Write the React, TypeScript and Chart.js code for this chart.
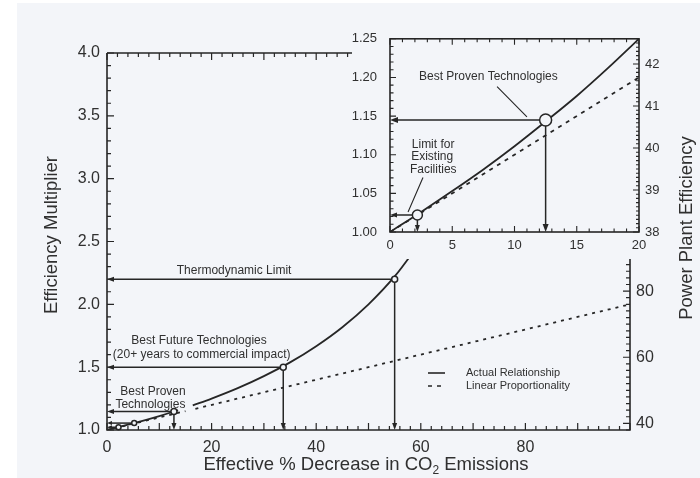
import React, { useEffect, useRef } from 'react';
import { Chart, registerables } from 'chart.js';

Chart.register(...registerables);

const FONT = '"Liberation Sans", Arial, Helvetica, sans-serif';
const INK = '#262626';
const TEXT = '#303030';
const PAPER = '#f3f5f9';

// ---------- Main chart data ----------
const mainActualX = [0, 2.5, 5, 7.5, 10, 12.5, 13.6, 15, 16.4, 20, 25, 30, 35, 40, 45, 50, 55, 60];
const mainActualY = [1.0, 1.026, 1.053, 1.081, 1.111, 1.143, 1.157, null, 1.196, 1.25, 1.333, 1.429, 1.538, 1.667, 1.818, 2.0, 2.222, 2.5];
const mainLinearX = [0, 15, 16, 16.9, 100];
const mainLinearY = [1.0, 1.15, null, 1.169, 2.0];

const mainXTicks = [0, 20, 40, 60, 80];
const mainYTicks = [1.0, 1.5, 2.0, 2.5, 3.0, 3.5, 4.0];
const mainRightTicks = [40, 60, 80];

const mainMarkerX = [55, 33.7, 12.8];
const mainMarkerY = [2.2, 1.5, 1.147];
const mainSmallMarkerX = [5.2, 2.2];
const mainSmallMarkerY = [1.055, 1.022];

// ---------- Inset chart data ----------
const insetX = [0, 2.5, 5, 7.5, 10, 12.5, 15, 17.5, 20];
const insetActualY = [1.0, 1.026, 1.053, 1.081, 1.111, 1.143, 1.176, 1.212, 1.25];
const insetLinearX = [0, 20];
const insetLinearY = [1.0, 1.2];

const insetXTicks = [0, 5, 10, 15, 20];
const insetYTicks = [1.0, 1.05, 1.1, 1.15, 1.2, 1.25];
const insetRightTicks = [38, 39, 40, 41, 42];

const insetMarkerX = [12.5, 2.2];
const insetMarkerY = [1.145, 1.022];

const seriesLabels = ['Actual Relationship', 'Linear Proportionality'];

const toPoints = (xs: number[], ys: (number | null)[]) => xs.map((x, i) => ({ x, y: ys[i] }));

function arrowLeft(ctx: CanvasRenderingContext2D, x: number, y: number, len: number, w: number) {
  ctx.beginPath();
  ctx.moveTo(x, y);
  ctx.lineTo(x + len, y - w / 2);
  ctx.lineTo(x + len, y + w / 2);
  ctx.closePath();
  ctx.fill();
}
function arrowDown(ctx: CanvasRenderingContext2D, x: number, y: number, len: number, w: number) {
  ctx.beginPath();
  ctx.moveTo(x, y);
  ctx.lineTo(x - w / 2, y - len);
  ctx.lineTo(x + w / 2, y - len);
  ctx.closePath();
  ctx.fill();
}
function marker(
  ctx: CanvasRenderingContext2D, px: number, py: number, r: number,
  left: number, bottom: number | null, hl: number, hw: number
) {
  ctx.beginPath();
  ctx.moveTo(px - r, py);
  ctx.lineTo(left + hl - 1, py);
  ctx.stroke();
  arrowLeft(ctx, left, py, hl, hw);
  if (bottom !== null) {
    ctx.beginPath();
    ctx.moveTo(px, py + r);
    ctx.lineTo(px, bottom - hl + 1);
    ctx.stroke();
    arrowDown(ctx, px, bottom, hl, hw);
  }
  ctx.beginPath();
  ctx.arc(px, py, r, 0, Math.PI * 2);
  ctx.fillStyle = PAPER;
  ctx.fill();
  ctx.stroke();
  ctx.fillStyle = INK;
}

const mainDecor = {
  id: 'mainDecor',
  afterDraw(chart: any) {
    const { ctx, chartArea: a, scales } = chart;
    const xs = scales.x, ys = scales.y, ry = scales.y2;
    ctx.save();
    ctx.strokeStyle = INK;
    ctx.fillStyle = INK;
    ctx.lineWidth = 1.6;
    ctx.beginPath();
    ctx.moveTo(a.left, a.top);
    ctx.lineTo(a.right, a.top);
    ctx.moveTo(a.left, a.top);
    ctx.lineTo(a.left, a.bottom);
    ctx.lineTo(a.right, a.bottom);
    ctx.lineTo(a.right, a.top);
    ctx.stroke();

    ctx.lineWidth = 1.2;
    ctx.beginPath();
    for (let i = 0; i <= 50; i++) {
      const v = i * 2;
      const px = xs.getPixelForValue(v);
      const len = v % 10 === 0 ? 7 : 4;
      ctx.moveTo(px, a.bottom);
      ctx.lineTo(px, a.bottom - len);
      ctx.moveTo(px, a.top);
      ctx.lineTo(px, a.top + len);
    }
    for (let i = 0; i <= 30; i++) {
      const py = ys.getPixelForValue(1 + i * 0.1);
      const len = i % 5 === 0 ? 7 : 4;
      ctx.moveTo(a.left, py);
      ctx.lineTo(a.left + len, py);
    }
    for (let v = 38; v <= 152; v += 2) {
      const py = ry.getPixelForValue(v);
      const len = v % 20 === 0 ? 7 : 4;
      ctx.moveTo(a.right, py);
      ctx.lineTo(a.right - len, py);
    }
    ctx.stroke();

    // markers with arrows
    ctx.lineWidth = 1.5;
    mainMarkerX.forEach((mx, i) => {
      marker(ctx, xs.getPixelForValue(mx), ys.getPixelForValue(mainMarkerY[i]), 3, a.left, a.bottom, 7, 5);
    });
    mainSmallMarkerX.forEach((mx, i) => {
      marker(ctx, xs.getPixelForValue(mx), ys.getPixelForValue(mainSmallMarkerY[i]), 2.5, a.left, null, 5, 4);
    });

    // annotation labels
    ctx.fillStyle = TEXT;
    ctx.textAlign = 'center';
    ctx.textBaseline = 'middle';
    ctx.font = `12px ${FONT}`;
    const yT = ys.getPixelForValue(mainMarkerY[0]);
    ctx.fillText('Thermodynamic Limit', xs.getPixelForValue(24.3), yT - 9);
    const yF = ys.getPixelForValue(mainMarkerY[1]);
    ctx.fillText('Best Future Technologies', xs.getPixelForValue(17.6), yF - 26);
    ctx.fillText('(20+ years to commercial impact)', xs.getPixelForValue(18.1), yF - 12);
    const yP = ys.getPixelForValue(mainMarkerY[2]);
    ctx.fillText('Best Proven', xs.getPixelForValue(8.8), yP - 20);
    ctx.fillText('Technologies', xs.getPixelForValue(8.3), yP - 7);

    // legend
    ctx.font = `11px ${FONT}`;
    ctx.textAlign = 'left';
    ctx.strokeStyle = INK;
    ctx.lineWidth = 1.6;
    ctx.beginPath();
    ctx.moveTo(428, 373);
    ctx.lineTo(445, 373);
    ctx.stroke();
    ctx.setLineDash([4, 5]);
    ctx.beginPath();
    ctx.moveTo(428, 386);
    ctx.lineTo(446, 386);
    ctx.stroke();
    ctx.setLineDash([]);
    const ds = chart.data.datasets;
    ctx.fillText(ds[0].label, 466, 373);
    ctx.fillText(ds[1].label, 466, 386);

    // axis titles
    ctx.textAlign = 'center';
    ctx.font = `18.5px ${FONT}`;
    ctx.save();
    ctx.translate(52, 235);
    ctx.rotate(-Math.PI / 2);
    ctx.fillText('Efficiency Multiplier', 0, 0);
    ctx.restore();
    ctx.save();
    ctx.translate(687, 228);
    ctx.rotate(-Math.PI / 2);
    ctx.fillText('Power Plant Efficiency', 0, 0);
    ctx.restore();

    const p1 = 'Effective % Decrease in CO';
    const p2 = '2';
    const p3 = ' Emissions';
    ctx.font = `18.5px ${FONT}`;
    const w1 = ctx.measureText(p1).width;
    const w3 = ctx.measureText(p3).width;
    ctx.font = `12px ${FONT}`;
    const w2 = ctx.measureText(p2).width;
    let sx = 366 - (w1 + w2 + w3) / 2;
    ctx.textAlign = 'left';
    ctx.font = `18.5px ${FONT}`;
    ctx.fillText(p1, sx, 465);
    sx += w1;
    ctx.font = `12px ${FONT}`;
    ctx.fillText(p2, sx, 471);
    sx += w2;
    ctx.font = `18.5px ${FONT}`;
    ctx.fillText(p3, sx, 465);

    // paper under the inset
    ctx.fillStyle = PAPER;
    ctx.fillRect(352, 18, 320, 241);
    ctx.restore();
  },
};

const insetDecor = {
  id: 'insetDecor',
  afterDraw(chart: any) {
    const { ctx, chartArea: a, scales } = chart;
    const xs = scales.x, ys = scales.y, ry = scales.y2;
    ctx.save();
    ctx.strokeStyle = INK;
    ctx.fillStyle = INK;
    ctx.lineWidth = 1.6;
    ctx.strokeRect(a.left, a.top, a.right - a.left, a.bottom - a.top);

    ctx.lineWidth = 1.1;
    ctx.beginPath();
    for (let v = 0; v <= 20; v++) {
      const px = xs.getPixelForValue(v);
      const len = v % 5 === 0 ? 6 : 3.5;
      ctx.moveTo(px, a.bottom);
      ctx.lineTo(px, a.bottom - len);
      ctx.moveTo(px, a.top);
      ctx.lineTo(px, a.top + len);
    }
    for (let i = 0; i <= 25; i++) {
      const py = ys.getPixelForValue(1 + i * 0.01);
      const len = i % 5 === 0 ? 6 : 3.5;
      ctx.moveTo(a.left, py);
      ctx.lineTo(a.left + len, py);
    }
    for (let i = 0; i <= 46; i++) {
      const v = 38 + i * 0.1;
      const py = ry.getPixelForValue(v);
      const len = i % 10 === 0 ? 6 : 3;
      ctx.moveTo(a.right, py);
      ctx.lineTo(a.right - len, py);
    }
    ctx.stroke();

    ctx.lineWidth = 1.5;
    marker(ctx, xs.getPixelForValue(insetMarkerX[0]), ys.getPixelForValue(insetMarkerY[0]), 6, a.left, a.bottom, 8, 6);
    marker(ctx, xs.getPixelForValue(insetMarkerX[1]), ys.getPixelForValue(insetMarkerY[1]), 5, a.left, a.bottom, 7, 5);

    // leader lines
    ctx.lineWidth = 1.1;
    ctx.beginPath();
    ctx.moveTo(xs.getPixelForValue(8.6), ys.getPixelForValue(1.188));
    ctx.lineTo(xs.getPixelForValue(11.0), ys.getPixelForValue(1.149));
    ctx.moveTo(xs.getPixelForValue(2.65), ys.getPixelForValue(1.0705));
    ctx.lineTo(xs.getPixelForValue(1.45), ys.getPixelForValue(1.026));
    ctx.stroke();

    ctx.fillStyle = TEXT;
    ctx.textBaseline = 'middle';
    ctx.font = `12px ${FONT}`;
    ctx.textAlign = 'center';
    ctx.fillText('Best Proven Technologies', xs.getPixelForValue(7.9), ys.getPixelForValue(1.201));
    ctx.textAlign = 'left';
    ctx.fillText('Limit for', xs.getPixelForValue(1.75), ys.getPixelForValue(1.113));
    ctx.fillText('Existing', xs.getPixelForValue(1.7), ys.getPixelForValue(1.097));
    ctx.fillText('Facilities', xs.getPixelForValue(1.6), ys.getPixelForValue(1.081));
    ctx.restore();
  },
};

export default function App() {
  const mainRef = useRef<HTMLCanvasElement | null>(null);
  const insetRef = useRef<HTMLCanvasElement | null>(null);

  useEffect(() => {
    document.body.style.margin = '0';
    const tickFont = { family: FONT, size: 16 };
    const noGrid = { display: false, drawTicks: false, tickLength: 0 };
    const main = new Chart(mainRef.current as HTMLCanvasElement, {
      type: 'line',
      data: {
        datasets: [
          {
            label: seriesLabels[0],
            data: toPoints(mainActualX, mainActualY) as any,
            borderColor: INK,
            borderWidth: 1.8,
            pointRadius: 0,
            cubicInterpolationMode: 'monotone',
            spanGaps: false,
            yAxisID: 'y',
          },
          {
            label: seriesLabels[1],
            data: toPoints(mainLinearX, mainLinearY) as any,
            borderColor: INK,
            borderWidth: 1.8,
            borderDash: [3, 5],
            pointRadius: 0,
            spanGaps: false,
            yAxisID: 'y',
          },
        ],
      },
      options: {
        responsive: false,
        animation: false,
        layout: { padding: { top: 53, left: 0, right: 0, bottom: 0 } },
        plugins: { legend: { display: false }, tooltip: { enabled: false } },
        scales: {
          x: {
            type: 'linear',
            min: 0,
            max: 100,
            grid: noGrid,
            border: { display: false },
            afterBuildTicks: (s: any) => { s.ticks = mainXTicks.map((v) => ({ value: v })); },
            afterFit: (s: any) => { s.height = 48; },
            ticks: { font: tickFont, color: TEXT, padding: 8, maxRotation: 0, callback: (v: any) => String(v) },
          },
          y: {
            type: 'linear',
            position: 'left',
            min: 1,
            max: 4,
            grid: noGrid,
            border: { display: false },
            afterBuildTicks: (s: any) => { s.ticks = mainYTicks.map((v) => ({ value: v })); },
            afterFit: (s: any) => { s.width = 107; },
            ticks: { font: tickFont, color: TEXT, padding: 7, callback: (v: any) => Number(v).toFixed(1) },
          },
          y2: {
            type: 'linear',
            position: 'right',
            min: 38,
            max: 152,
            grid: noGrid,
            border: { display: false },
            afterBuildTicks: (s: any) => { s.ticks = mainRightTicks.map((v) => ({ value: v })); },
            afterFit: (s: any) => { s.width = 70; },
            ticks: { font: tickFont, color: TEXT, padding: 6, callback: (v: any) => String(v) },
          },
        },
      },
      plugins: [mainDecor],
    });

    const insetFont = { family: FONT, size: 13 };
    const inset = new Chart(insetRef.current as HTMLCanvasElement, {
      type: 'line',
      data: {
        datasets: [
          {
            label: seriesLabels[0],
            data: toPoints(insetX, insetActualY) as any,
            borderColor: INK,
            borderWidth: 1.8,
            pointRadius: 0,
            cubicInterpolationMode: 'monotone',
            yAxisID: 'y',
          },
          {
            label: seriesLabels[1],
            data: toPoints(insetLinearX, insetLinearY) as any,
            borderColor: INK,
            borderWidth: 1.8,
            borderDash: [4, 5],
            pointRadius: 0,
            yAxisID: 'y',
          },
        ],
      },
      options: {
        responsive: false,
        animation: false,
        layout: { padding: { top: 19, left: 0, right: 0, bottom: 0 } },
        plugins: { legend: { display: false }, tooltip: { enabled: false } },
        scales: {
          x: {
            type: 'linear',
            min: 0,
            max: 20,
            grid: noGrid,
            border: { display: false },
            afterBuildTicks: (s: any) => { s.ticks = insetXTicks.map((v) => ({ value: v })); },
            afterFit: (s: any) => { s.height = 28; },
            ticks: { font: insetFont, color: TEXT, padding: 6, maxRotation: 0, callback: (v: any) => String(v) },
          },
          y: {
            type: 'linear',
            position: 'left',
            min: 1,
            max: 1.25,
            grid: noGrid,
            border: { display: false },
            afterBuildTicks: (s: any) => { s.ticks = insetYTicks.map((v) => ({ value: v })); },
            afterFit: (s: any) => { s.width = 54; },
            ticks: { font: insetFont, color: TEXT, padding: 13, callback: (v: any) => Number(v).toFixed(2) },
          },
          y2: {
            type: 'linear',
            position: 'right',
            min: 38,
            max: 42.6,
            grid: noGrid,
            border: { display: false },
            afterBuildTicks: (s: any) => { s.ticks = insetRightTicks.map((v) => ({ value: v })); },
            afterFit: (s: any) => { s.width = 33; },
            ticks: { font: insetFont, color: TEXT, padding: 6, callback: (v: any) => String(v) },
          },
        },
      },
      plugins: [insetDecor],
    });

    return () => {
      main.destroy();
      inset.destroy();
    };
  }, []);

  return (
    <div style={{ position: 'relative', width: 700, height: 478, background: '#ffffff', overflow: 'hidden' }}>
      <div style={{ position: 'absolute', left: 17, top: 3, right: 0, bottom: 0, background: PAPER }} />
      <canvas ref={mainRef} width={700} height={478} style={{ position: 'absolute', left: 0, top: 0 }} />
      <canvas ref={insetRef} width={336} height={242} style={{ position: 'absolute', left: 336, top: 18 }} />
    </div>
  );
}
